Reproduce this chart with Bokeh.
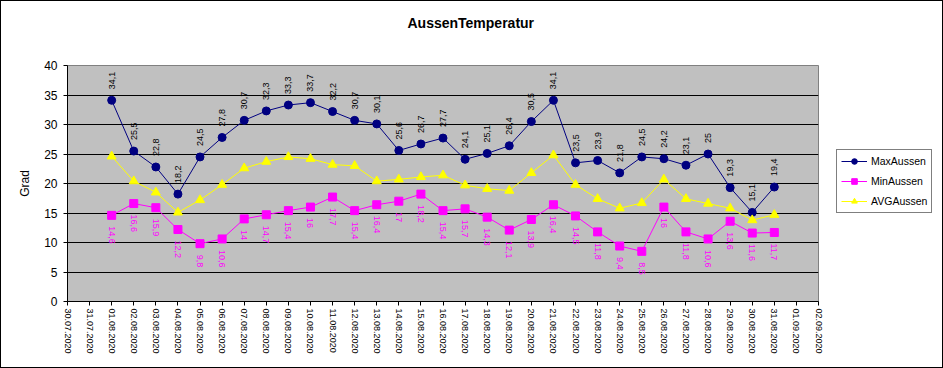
import math
from bokeh.plotting import figure
from bokeh.layouts import row
from bokeh.models import Range1d, FixedTicker, Legend, LegendItem, Title
from bokeh.embed import file_html
from bokeh.resources import INLINE
from bokeh.core.properties import value

FONT = "Liberation Sans"

dates = ["30.07.2020", "31.07.2020", "01.08.2020", "02.08.2020", "03.08.2020",
         "04.08.2020", "05.08.2020", "06.08.2020", "07.08.2020", "08.08.2020",
         "09.08.2020", "10.08.2020", "11.08.2020", "12.08.2020", "13.08.2020",
         "14.08.2020", "15.08.2020", "16.08.2020", "17.08.2020", "18.08.2020",
         "19.08.2020", "20.08.2020", "21.08.2020", "22.08.2020", "23.08.2020",
         "24.08.2020", "25.08.2020", "26.08.2020", "27.08.2020", "28.08.2020",
         "29.08.2020", "30.08.2020", "31.08.2020", "01.09.2020", "02.09.2020"]

max_aussen = [34.1, 25.5, 22.8, 18.2, 24.5, 27.8, 30.7, 32.3, 33.3, 33.7,
              32.2, 30.7, 30.1, 25.6, 26.7, 27.7, 24.1, 25.1, 26.4, 30.5,
              34.1, 23.5, 23.9, 21.8, 24.5, 24.2, 23.1, 25.0, 19.3, 15.1, 19.4]

min_aussen = [14.6, 16.6, 15.9, 12.2, 9.8, 10.6, 14.0, 14.7, 15.4, 16.0,
              17.7, 15.4, 16.4, 17.0, 18.2, 15.4, 15.7, 14.3, 12.1, 13.9,
              16.4, 14.5, 11.8, 9.4, 8.5, 16.0, 11.8, 10.6, 13.6, 11.6, 11.7]

avg_aussen = [24.6, 20.4, 18.5, 15.1, 17.2, 19.8, 22.6, 23.7, 24.5, 24.2,
              23.2, 23.0, 20.4, 20.7, 21.1, 21.4, 19.7, 19.1, 18.8, 21.8,
              24.8, 19.8, 17.4, 15.8, 16.7, 20.7, 17.4, 16.6, 15.8, 13.8, 14.7]

series_names = ["MaxAussen", "MinAussen", "AVGAussen"]

y_ticks = [0, 5, 10, 15, 20, 25, 30, 35, 40]

first_day = dates.index("01.08.2020")
x_all = list(range(len(dates)))
x_data = x_all[first_day:first_day + len(max_aussen)]


def fmt(v):
    return ("%g" % v).replace(".", ",")


max_labels = [fmt(v) for v in max_aussen]
min_labels = [fmt(v) for v in min_aussen]

NAVY = "#000080"
MAG = "#FF00FF"
YEL = "#FFFF00"
series_values = [max_aussen, min_aussen, avg_aussen]
series_colors = [NAVY, MAG, YEL]
series_markers = ["circle", "square", "triangle"]
series_sizes = [8, 8, 9]

p = figure(width=822, height=366, output_backend="svg", toolbar_location=None,
           x_range=Range1d(x_all[0], x_all[-1]), y_range=Range1d(y_ticks[0], y_ticks[-1]),
           min_border_left=66, min_border_right=5, min_border_top=64, min_border_bottom=66)

p.background_fill_color = "#C0C0C0"
p.border_fill_color = "white"
p.outline_line_color = "#808080"

# spacer between frame and title, then the title itself
spacer = Title(text=" ", text_font_size="10px", standoff=22, text_font=FONT)
p.add_layout(spacer, "above")
title = Title(text="AussenTemperatur", align="left", offset=340, standoff=0,
              vertical_align="bottom", text_font_size="14px", text_font_style="bold",
              text_font=FONT, text_color="black")
p.add_layout(title, "above")

# x axis
xa = p.xaxis[0]
xa.ticker = FixedTicker(ticks=x_all)
xa.major_label_overrides = {i: d for i, d in enumerate(dates)}
xa.major_label_orientation = -math.pi / 2
xa.major_label_text_font_size = "9px"
xa.major_label_text_font = FONT
xa.major_label_text_color = "black"
xa.major_label_standoff = 3
xa.major_tick_out = 4
xa.major_tick_in = 0
xa.minor_tick_line_color = None
xa.axis_line_color = "black"
xa.major_tick_line_color = "black"

# y axis
ya = p.yaxis[0]
ya.ticker = FixedTicker(ticks=y_ticks)
ya.major_label_text_font_size = "12px"
ya.major_label_text_font = FONT
ya.major_label_text_color = "black"
ya.major_label_standoff = 6
ya.major_tick_out = 4
ya.major_tick_in = 0
ya.minor_tick_line_color = None
ya.axis_line_color = "black"
ya.major_tick_line_color = "black"
ya.axis_label = "Grad"
ya.axis_label_text_font = FONT
ya.axis_label_text_font_size = "12px"
ya.axis_label_text_font_style = "normal"
ya.axis_label_text_color = "black"
ya.axis_label_standoff = 9

p.xgrid.visible = False
p.ygrid.ticker = FixedTicker(ticks=y_ticks[1:-1])
p.ygrid.grid_line_color = "black"
p.ygrid.grid_line_width = 1

for vals, col, mk, sz in zip(series_values, series_colors, series_markers, series_sizes):
    p.line(x_data, vals, line_color=col, line_width=1)
    p.scatter(x_data, vals, marker=mk, size=sz, fill_color=col, line_color=col)

p.text(x=x_data, y=max_aussen, text=max_labels, angle=math.pi / 2, text_align="left",
       text_baseline="middle", y_offset=-11, text_font_size="9px",
       text_font=value(FONT), text_color="black")
p.text(x=x_data, y=min_aussen, text=min_labels, angle=-math.pi / 2, text_align="left",
       text_baseline="middle", y_offset=11, text_font_size="9px",
       text_font=value(FONT), text_color=MAG)

# legend panel: a small companion figure whose (out-of-view) renderers feed the legend
pl = figure(width=119, height=366, output_backend="svg", toolbar_location=None,
            x_range=Range1d(-1, 0), y_range=Range1d(-1, 0),
            min_border_left=0, min_border_right=0, min_border_top=0, min_border_bottom=0)
pl.axis.visible = False
pl.grid.visible = False
pl.outline_line_color = None
pl.background_fill_color = "white"
pl.border_fill_color = "white"

items = []
for name, vals, col, mk in zip(series_names, series_values, series_colors, series_markers):
    lr = pl.line(x_data, vals, line_color=col, line_width=1)
    sr = pl.scatter(x_data, vals, marker=mk, size=7, fill_color=col, line_color=col)
    items.append(LegendItem(label=name, renderers=[lr, sr]))

legend = Legend(items=items, location=(13, 88))
legend.border_line_color = "black"
legend.border_line_width = 1
legend.background_fill_color = "white"
legend.background_fill_alpha = 1
legend.label_text_font = FONT
legend.label_text_font_size = "10.5px"
legend.label_text_color = "black"
legend.padding = 4
legend.spacing = 6
legend.glyph_width = 26
legend.glyph_height = 14
legend.label_height = 14
legend.label_standoff = 4
legend.margin = 0
pl.add_layout(legend, "center")

layout = row(p, pl)
layout.styles = {"border": "1px solid black"}
open("out.html", "w").write(file_html(layout, INLINE))
